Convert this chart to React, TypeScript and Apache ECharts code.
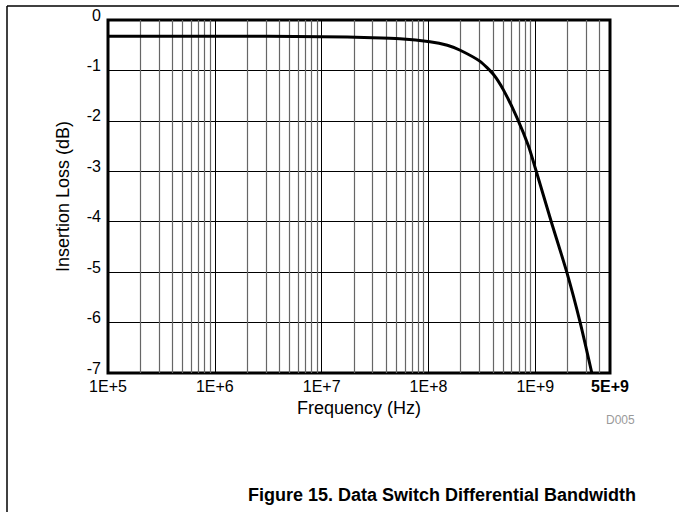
import React, { useEffect, useRef } from "react";
import * as echarts from "echarts";

// Frequency (Hz) and insertion loss (dB)
const FREQ_HZ = [
  1e5, 1e6, 1e7, 3e7, 5.4e7, 1.03e8, 1.5e8, 1.98e8, 3.04e8, 4.06e8, 5.04e8,
  6.71e8, 8.63e8, 1.02e9, 1.41e9, 1.97e9, 2.63e9, 3.38e9,
];
const LOSS_DB = [
  -0.32, -0.32, -0.33, -0.35, -0.37, -0.43, -0.5, -0.6, -0.82, -1.08, -1.39,
  -1.93, -2.5, -3.0, -4.0, -5.0, -6.0, -7.0,
];

// Axis ranges and ticks
const X_MIN = 1e5;
const X_MAX = 5e9;
const Y_MIN = -7;
const Y_MAX = 0;
const Y_STEP = 1;

// Minor vertical grid lines (2..9 within each decade)
const DECADES = [1e5, 1e6, 1e7, 1e8, 1e9];
const MINOR_MULT = [2, 3, 4, 5, 6, 7, 8, 9];

const TITLE = "Figure 15. Data Switch Differential Bandwidth";
const X_NAME = "Frequency (Hz)";
const Y_NAME = "Insertion Loss (dB)";
const TAG = "D005";

const FONT = "'Liberation Sans', Arial, Helvetica, sans-serif";

export default function App() {
  const ref = useRef<HTMLDivElement>(null);

  useEffect(() => {
    if (!ref.current) return;
    const chart = echarts.init(ref.current, undefined, { renderer: "svg" });

    const curve = FREQ_HZ.map((f, i) => [f, LOSS_DB[i]]);
    const minor: number[] = [];
    DECADES.forEach((d) =>
      MINOR_MULT.forEach((m) => {
        const v = d * m;
        if (v < X_MAX) minor.push(v);
      })
    );

    chart.setOption({
      animation: false,
      backgroundColor: "#fff",
      textStyle: { fontFamily: FONT, color: "#000" },
      grid: {
        left: 108,
        right: 69,
        top: 20,
        bottom: 139,
        show: true,
        borderColor: "#000",
        borderWidth: 3,
        backgroundColor: "transparent",
      },
      xAxis: {
        type: "log",
        logBase: 10,
        min: X_MIN,
        max: X_MAX,
        name: X_NAME,
        nameLocation: "middle",
        nameGap: 15,
        nameTextStyle: { fontSize: 18, color: "#000", fontFamily: FONT },
        axisLine: { show: false },
        axisTick: { show: false },
        axisLabel: {
          fontSize: 16,
          color: "#000",
          margin: 5,
          fontFamily: FONT,
          showMinLabel: true,
          showMaxLabel: true,
          formatter: (v: number) =>
            v > 2e9 ? "{b|5E+9}" : "1E+" + Math.round(Math.log10(v)),
          rich: {
            b: { fontSize: 16, fontWeight: "bold", color: "#000", fontFamily: FONT },
          },
        },
        splitLine: { show: true, lineStyle: { color: "#000", width: 1 } },
      },
      yAxis: {
        type: "value",
        min: Y_MIN,
        max: Y_MAX,
        interval: Y_STEP,
        name: Y_NAME,
        nameLocation: "middle",
        nameGap: 36,
        nameTextStyle: { fontSize: 18, color: "#000", fontFamily: FONT },
        axisLine: { show: false },
        axisTick: { show: false },
        axisLabel: {
          color: "#000",
          margin: 7,
          fontFamily: FONT,
          formatter: (v: number) => "{a|" + v + "}",
          rich: {
            a: {
              fontSize: 16,
              color: "#000",
              fontFamily: FONT,
              padding: [0, 0, 10, 0],
            },
          },
        },
        splitLine: { show: true, lineStyle: { color: "#000", width: 1 } },
      },
      series: [
        {
          type: "line",
          data: curve,
          showSymbol: false,
          silent: true,
          lineStyle: { width: 0, opacity: 0 },
          z: 1,
          markLine: {
            silent: true,
            symbol: "none",
            label: { show: false },
            lineStyle: { color: "#666", width: 1.2, type: "solid" },
            data: minor.map((v) => ({ xAxis: v })),
          },
        },
        {
          type: "line",
          data: curve,
          smooth: 0.2,
          showSymbol: false,
          silent: true,
          lineStyle: { color: "#000", width: 3 },
          z: 5,
        },
      ],
      graphic: [
        {
          type: "line",
          shape: { x1: 7, y1: 6, x2: 679, y2: 6 },
          style: { stroke: "#000", lineWidth: 1.5 },
        },
        {
          type: "line",
          shape: { x1: 7, y1: 6, x2: 7, y2: 512 },
          style: { stroke: "#000", lineWidth: 1.5 },
        },
        {
          type: "text",
          left: 606,
          top: 414,
          style: { text: TAG, fontSize: 12, fill: "#9a9a9a", fontFamily: FONT },
        },
        {
          type: "text",
          left: 248,
          top: 486,
          style: {
            text: TITLE,
            fontSize: 18,
            fontWeight: "bold",
            fill: "#000",
            fontFamily: FONT,
          },
        },
      ],
    });

    return () => chart.dispose();
  }, []);

  return <div ref={ref} style={{ width: 679, height: 512, position: "absolute", left: 0, top: 0 }} />;
}
